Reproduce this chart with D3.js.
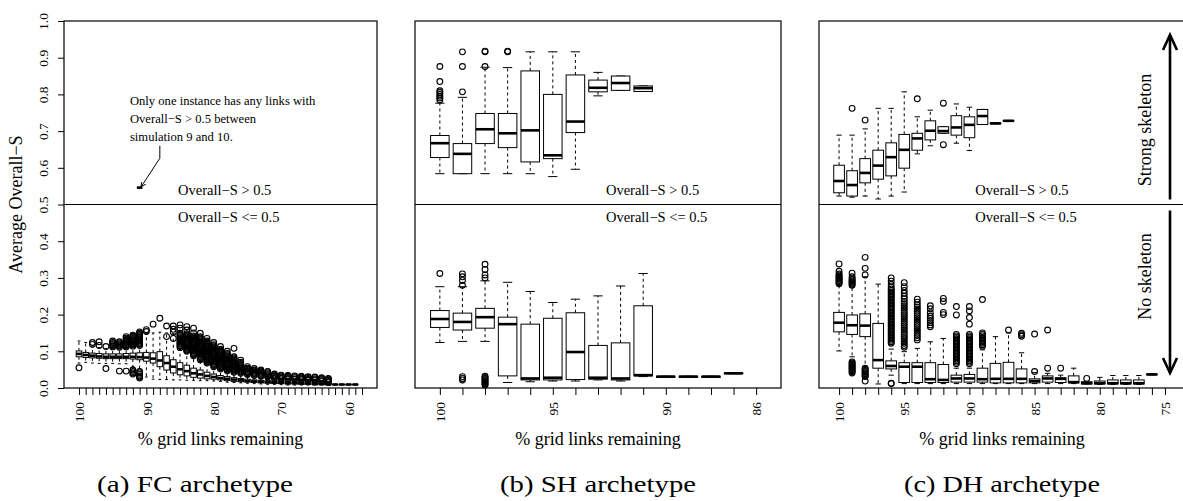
<!DOCTYPE html>
<html>
<head>
<meta charset="utf-8">
<style>
  body { margin: 0; background: #fff; }
  svg text { font-family: "Liberation Serif", "Times New Roman", serif; fill: #000; }
</style>
</head>
<body>
<div id="chart"></div>
<script src="https://d3js.org/d3.v7.min.js"></script>
<script>
// ------------------------------------------------ data
// categories (% grid links remaining) and which ones get a label
var aCats = ["100","99","98","97","96","95","94","93","92","91","90","89","88","87","86","85","84","83","82","81",
             "80","79","78","77","76","75","74","73","72","71","70","69","68","67","66","65","64","63","62","61","60","59","58"];
var aShown = ["100","90","80","70","60"];
var bCats = ["100","99","98","97","96","95","94","93","92","91","90","89","88","87","86"];
var bShown = ["100","95","90","86"];
var cCats = ["100","99","98","97","96","95","94","93","92","91","90","89","88","87","86","85","84","83","82","81",
             "80","79","78","77","76","75"];
var cShown = ["100","95","90","85","80","75"];

// box stats: [lower whisker, q1, median, q3, upper whisker]
// FC archetype
var aUpAt = ["91"];
var aUpStats = [[0.546, 0.546, 0.546, 0.546, 0.546]];
var aUpOut = [[]];
var aLowStats = [
  [0.068,0.085,0.093,0.101,0.128],[0.070,0.083,0.090,0.097,0.124],[0.068,0.082,0.088,0.095,0.112],
  [0.067,0.081,0.086,0.094,0.110],[0.067,0.080,0.085,0.093,0.108],[0.067,0.080,0.085,0.093,0.108],
  [0.066,0.080,0.085,0.093,0.108],[0.066,0.080,0.085,0.094,0.110],[0.058,0.079,0.085,0.095,0.112],
  [0.052,0.077,0.084,0.096,0.113],[0.030,0.073,0.083,0.097,0.148],[0.024,0.068,0.080,0.096,0.150],
  [0.023,0.058,0.075,0.099,0.152],[0.023,0.049,0.068,0.088,0.150],[0.022,0.041,0.058,0.077,0.148],
  [0.022,0.036,0.051,0.069,0.108],[0.021,0.033,0.046,0.062,0.096],[0.021,0.029,0.040,0.054,0.085],
  [0.020,0.027,0.037,0.049,0.073],[0.020,0.025,0.033,0.043,0.064],[0.019,0.024,0.030,0.038,0.055],
  [0.018,0.022,0.027,0.034,0.050],[0.016,0.020,0.025,0.031,0.045],[0.015,0.018,0.023,0.028,0.041],
  [0.014,0.017,0.021,0.026,0.038],[0.013,0.016,0.019,0.024,0.035],[0.012,0.015,0.018,0.022,0.032],
  [0.011,0.014,0.017,0.021,0.030],[0.010,0.013,0.016,0.020,0.028],[0.010,0.012,0.015,0.019,0.026],
  [0.009,0.012,0.014,0.018,0.024],[0.008,0.011,0.013,0.017,0.023],[0.008,0.011,0.013,0.016,0.022],
  [0.008,0.010,0.012,0.015,0.021],[0.008,0.010,0.012,0.014,0.020],[0.008,0.009,0.011,0.014,0.019],
  [0.008,0.009,0.011,0.013,0.017],[0.008,0.009,0.010,0.012,0.015],[0.009,0.009,0.0095,0.010,0.010],
  [0.009,0.009,0.0095,0.010,0.010],[0.009,0.009,0.0095,0.010,0.010],[0.009,0.009,0.0095,0.010,0.010]
];
var aLowOut = [
  [0.055],[],[0.124,0.119],[0.126,0.116],[0.113,0.053],[0.128,0.124,0.121,0.118,0.115,0.112],
  [0.126,0.123,0.120,0.117,0.114,0.111,0.046],
  [0.140,0.136,0.133,0.130,0.127,0.124,0.121,0.118,0.115,0.112,0.046],
  [0.144,0.141,0.138,0.135,0.132,0.129,0.126,0.123,0.120,0.117,0.114,0.049,0.045,0.041,0.038],
  [0.153,0.149,0.146,0.143,0.140,0.137,0.134,0.131,0.128,0.125,0.122,0.119,0.116,0.045,0.041,0.037,0.033,0.030,0.027],
  [0.159,0.154],[0.174],[0.190],[0.169,0.140],[0.169,0.160,0.152,0.135],
  [0.172,0.163,0.149,0.146,0.143,0.140,0.137,0.134,0.131,0.128,0.125,0.122,0.119,0.116,0.113,0.110],
  [0.167,0.158,0.148,0.145,0.142,0.139,0.136,0.133,0.130,0.127,0.124,0.121,0.118,0.115,0.112,0.109,0.106,0.103,0.100],
  [0.163,0.150,0.142,0.139,0.136,0.133,0.130,0.127,0.124,0.121,0.118,0.115,0.112,0.109,0.106,0.103,0.100,0.097,0.094,0.091,0.088],
  [0.149,0.140,0.137,0.134,0.131,0.128,0.125,0.122,0.119,0.116,0.113,0.110,0.107,0.104,0.101,0.098,0.095,0.092,0.089,0.086,0.083,0.080,0.077],
  [0.135,0.128,0.125,0.122,0.119,0.116,0.113,0.110,0.107,0.104,0.101,0.098,0.095,0.092,0.089,0.086,0.083,0.080,0.077,0.074,0.071,0.068],
  [0.124,0.118,0.115,0.112,0.109,0.106,0.103,0.100,0.097,0.094,0.091,0.088,0.085,0.082,0.079,0.076,0.073,0.070,0.067,0.064,0.061,0.058],
  [0.113,0.106,0.103,0.100,0.097,0.094,0.091,0.088,0.085,0.082,0.079,0.076,0.073,0.070,0.067,0.064,0.061,0.058,0.055,0.052],
  [0.100,0.094,0.091,0.088,0.085,0.082,0.079,0.076,0.073,0.070,0.067,0.064,0.061,0.058,0.055,0.052,0.049,0.047],
  [0.108,0.085,0.082,0.079,0.076,0.073,0.070,0.067,0.064,0.061,0.058,0.055,0.052,0.049,0.046,0.043],
  [0.076,0.070,0.067,0.064,0.061,0.058,0.055,0.052,0.049,0.046,0.043,0.040],
  [0.058,0.054,0.051,0.048,0.045,0.042,0.039,0.037],
  [0.053,0.049,0.046,0.043,0.040,0.037,0.034],
  [0.049,0.046,0.043,0.040,0.037,0.034,0.032],
  [0.045,0.042,0.039,0.036,0.033,0.030],
  [0.038,0.035,0.032,0.029,0.026],[0.035,0.033,0.030,0.027,0.025],[0.034,0.032,0.029,0.026,0.024],
  [0.033,0.031,0.028,0.025,0.023],[0.032,0.030,0.027,0.024,0.022],[0.031,0.029,0.026,0.023,0.021],
  [0.030,0.028,0.025,0.022,0.020],[0.028,0.026,0.023,0.020,0.018],[0.026,0.024,0.021,0.018,0.016],
  [],[],[],[]
];

// SH archetype
var bUpStats = [
  [0.584,0.628,0.667,0.688,0.776],[0.584,0.584,0.638,0.666,0.792],[0.584,0.666,0.705,0.748,0.874],
  [0.584,0.655,0.694,0.748,0.873],[0.584,0.616,0.702,0.864,0.916],[0.576,0.625,0.634,0.800,0.916],
  [0.596,0.696,0.726,0.853,0.916],[0.796,0.807,0.818,0.839,0.860],[0.811,0.811,0.831,0.850,0.850],
  [0.808,0.808,0.817,0.823,0.823]
];
var bUpOut = [
  [0.785,0.790,0.795,0.800,0.805,0.810,0.835,0.876],[0.807,0.876,0.916],[0.876,0.916,0.918],
  [0.916,0.918],[],[],[],[],[],[]
];
var bLowStats = [
  [0.124,0.165,0.188,0.211,0.276],[0.127,0.158,0.180,0.204,0.276],[0.127,0.163,0.193,0.217,0.292],
  [0.015,0.033,0.174,0.193,0.288],[0.017,0.022,0.026,0.174,0.263],[0.019,0.022,0.028,0.190,0.233],
  [0.019,0.023,0.098,0.205,0.242],[0.022,0.024,0.028,0.116,0.251],[0.019,0.022,0.026,0.123,0.278],
  [0.031,0.033,0.035,0.224,0.312],[0.029,0.029,0.031,0.032,0.032],[0.029,0.029,0.031,0.032,0.032],
  [0.029,0.029,0.031,0.032,0.032],[0.039,0.039,0.040,0.041,0.041]
];
var bLowOut = [
  [0.312],[0.280,0.293,0.303,0.311,0.022,0.026,0.031],
  [0.300,0.308,0.323,0.337,0.008,0.011,0.014,0.017,0.020,0.023,0.026,0.029,0.032],
  [],[],[],[],[],[],[],[],[],[],[]
];

// DH archetype
var cUpStats = [
  [0.523,0.532,0.564,0.607,0.689],[0.520,0.523,0.553,0.592,0.689],[0.523,0.559,0.586,0.625,0.706],
  [0.515,0.569,0.606,0.648,0.762],[0.523,0.578,0.629,0.668,0.762],[0.534,0.599,0.649,0.691,0.807],
  [0.638,0.648,0.680,0.694,0.739],[0.660,0.676,0.701,0.728,0.757],[0.694,0.694,0.700,0.712,0.712],
  [0.667,0.689,0.710,0.742,0.774],[0.647,0.682,0.717,0.739,0.765],[0.718,0.718,0.741,0.759,0.759],
  [0.720,0.720,0.721,0.722,0.722],[0.727,0.727,0.728,0.729,0.729]
];
var cUpOut = [[],[0.762],[0.730],[],[],[],[0.788],[],[0.776,0.663],[],[],[],[],[]];
var cLowStats = [
  [0.101,0.153,0.178,0.206,0.281],[0.085,0.146,0.171,0.199,0.275],[0.057,0.140,0.170,0.202,0.303],
  [0.011,0.054,0.076,0.176,0.283],[0.035,0.052,0.060,0.074,0.106],[0.012,0.015,0.058,0.069,0.099],
  [0.012,0.015,0.058,0.069,0.108],[0.012,0.015,0.024,0.069,0.126],[0.012,0.015,0.022,0.064,0.135],
  [0.012,0.016,0.026,0.035,0.054],[0.012,0.016,0.026,0.037,0.054],[0.012,0.016,0.024,0.054,0.104],
  [0.012,0.014,0.025,0.067,0.140],[0.012,0.014,0.025,0.070,0.150],[0.012,0.014,0.025,0.052,0.096],
  [0.012,0.014,0.019,0.025,0.042],[0.012,0.016,0.026,0.033,0.040],[0.012,0.015,0.025,0.028,0.035],
  [0.012,0.014,0.016,0.033,0.054],[0.011,0.011,0.013,0.017,0.017],[0.010,0.011,0.013,0.019,0.029],
  [0.010,0.011,0.013,0.022,0.034],[0.010,0.011,0.013,0.022,0.034],[0.010,0.011,0.013,0.022,0.034],
  [0.036,0.036,0.037,0.038,0.038]
];
var cLowOut = [
  [0.338,0.318,0.311,0.308,0.305,0.302,0.299,0.296,0.293,0.290,0.287,0.284],
  [0.313,0.303,0.298,0.295,0.292,0.289,0.286,0.283,0.280,
   0.041,0.044,0.047,0.050,0.053,0.056,0.059,0.062,0.065,0.068,0.071],
  [0.356,0.326,0.308,0.054,0.051,0.048,0.045,0.042,0.039,0.036,0.033,0.031,0.019],
  [],
  [0.300,0.291,0.282,0.275,0.270,0.266,0.262,0.258,0.254,0.250,0.246,0.242,0.238,0.234,0.230,0.226,
   0.222,0.218,0.214,0.210,0.206,0.202,0.198,0.194,0.190,0.186,0.182,0.178,0.174,0.170,0.166,0.162,
   0.158,0.154,0.150,0.146,0.142,0.138,0.134,0.130,0.126,0.122,0.013,0.012],
  [0.287,0.276,0.266,0.258,0.250,0.243,0.236,0.230,0.224,0.218,0.212,0.206,0.200,0.194,0.188,0.182,
   0.176,0.170,0.164,0.158,0.152,0.146,0.140,0.134,0.128,0.122,0.116,0.111],
  [0.242,0.234,0.227,0.221,0.215,0.209,0.203,0.197,0.191,0.185,0.179,0.173,0.167,0.161,0.155,0.149,
   0.143,0.137,0.131],
  [0.224,0.216,0.205,0.196,0.190,0.184,0.178,0.172,0.167],
  [0.244,0.236,0.206,0.200],
  [0.222,0.199,0.146,0.142,0.138,0.134,0.130,0.126,0.122,0.118,0.114,0.110,0.106,0.102,0.098,0.094,
   0.090,0.086,0.082,0.078,0.074,0.070,0.066],
  [0.222,0.210,0.192,0.174,0.146,0.142,0.138,0.134,0.130,0.126,0.122,0.118,0.114,0.110,0.106,0.102,
   0.098,0.094,0.090,0.086,0.082,0.078,0.074,0.070,0.066],
  [0.241,0.150,0.146,0.142,0.138,0.134,0.130,0.126,0.122,0.118,0.114],
  [],[0.158],[0.149,0.145,0.141],[0.147,0.045],[0.158,0.054],[0.054],[],[0.026],[],[],[],[],[]
];

var noteLines = ["Only one instance has any links with", "Overall\u2212S > 0.5 between", "simulation 9 and 10."];

// ------------------------------------------------ layout
var W = 1183, H = 501;
var svg = d3.select("#chart").append("svg")
    .attr("width", W)
    .attr("height", H);
svg.append("rect").attr("width", W).attr("height", H).attr("fill", "#fff");

var y = d3.scaleLinear().domain([0, 1]).range([388, 21]);

var panels = [
  {left: 64, width: 313, cats: aCats, shown: aShown, up: aUpStats, upOut: aUpOut, upAt: aUpAt,
   low: aLowStats, lowOut: aLowOut, caption: "(a) FC archetype", capX: 195, labelAt: 14.7, yAxis: true},
  {left: 415, width: 366, cats: bCats, shown: bShown, up: bUpStats, upOut: bUpOut,
   low: bLowStats, lowOut: bLowOut, caption: "(b) SH archetype", labelAt: 7.35},
  {left: 819, width: 366, cats: cCats, shown: cShown, up: cUpStats, upOut: cUpOut,
   low: cLowStats, lowOut: cLowOut, caption: "(c) DH archetype", labelAt: 10.45}
];

function drawBoxes(g, x, cats, stats, outs, at) {
  var unit = x(1) - x(0);
  var bw = unit * 0.82;
  stats.forEach(function(s, i) {
    var cx = x(at ? cats.indexOf(at[i]) : i);
    var b = g.append("g");
    // whiskers
    b.append("line").attr("x1", cx).attr("x2", cx).attr("y1", y(s[3])).attr("y2", y(s[4]))
      .attr("stroke", "#000").attr("stroke-dasharray", "3,3");
    b.append("line").attr("x1", cx).attr("x2", cx).attr("y1", y(s[1])).attr("y2", y(s[0]))
      .attr("stroke", "#000").attr("stroke-dasharray", "3,3");
    [s[0], s[4]].forEach(function(v) {
      b.append("line").attr("x1", cx - bw / 4).attr("x2", cx + bw / 4)
        .attr("y1", y(v)).attr("y2", y(v)).attr("stroke", "#000");
    });
    b.append("rect")
      .attr("x", cx - bw / 2).attr("width", bw)
      .attr("y", y(s[3])).attr("height", Math.max(0, y(s[1]) - y(s[3])))
      .attr("fill", "#fff").attr("stroke", "#000");
    b.append("line").attr("x1", cx - bw / 2).attr("x2", cx + bw / 2)
      .attr("y1", y(s[2])).attr("y2", y(s[2]))
      .attr("stroke", "#000").attr("stroke-width", 2.6);
    b.selectAll("circle").data(outs[i] || []).enter().append("circle")
      .attr("cx", cx).attr("cy", function(d) { return y(d); })
      .attr("r", 2.9).attr("fill", "none").attr("stroke", "#000").attr("stroke-width", 1.1);
  });
}

var fmt = d3.format(".1f");

panels.forEach(function(p) {
  var n = p.cats.length;
  var x = d3.scaleLinear()
    .domain([-0.5 - 0.04 * n, n - 0.5 + 0.04 * n])
    .range([p.left, p.left + p.width]);
  p.x = x;
  var g = svg.append("g");

  drawBoxes(g, x, p.cats, p.up, p.upOut, p.upAt);
  drawBoxes(g, x, p.cats, p.low, p.lowOut);

  // frame and the 0.5 divider
  g.append("rect")
    .attr("x", p.left).attr("y", y(1))
    .attr("width", p.width).attr("height", y(0) - y(1))
    .attr("fill", "none").attr("stroke", "#000").attr("stroke-width", 1.2);
  g.append("line")
    .attr("x1", p.left).attr("x2", p.left + p.width)
    .attr("y1", y(0.5)).attr("y2", y(0.5))
    .attr("stroke", "#000").attr("stroke-width", 1.2);

  // x axis
  var xa = g.append("g")
    .attr("transform", "translate(0," + y(0) + ")")
    .call(d3.axisBottom(x)
      .tickValues(d3.range(n))
      .tickSize(7)
      .tickSizeOuter(0)
      .tickFormat(function(i) { return p.shown.indexOf(p.cats[i]) >= 0 ? p.cats[i] : ""; }));
  xa.select(".domain").remove();
  xa.selectAll("line").attr("stroke", "#000");
  xa.selectAll("text")
    .attr("transform", "rotate(-90)")
    .attr("x", -14).attr("y", 0).attr("dy", "0.35em")
    .attr("text-anchor", "end")
    .style("font-family", "Liberation Serif, serif")
    .style("font-size", "13.5px");

  if (p.yAxis) {
    var ya = g.append("g")
      .attr("transform", "translate(" + p.left + ",0)")
      .call(d3.axisLeft(y).tickValues(d3.range(0, 11).map(function(k) { return k / 10; }))
        .tickSize(6).tickSizeOuter(0).tickFormat(fmt));
    ya.select(".domain").remove();
    ya.selectAll("line").attr("stroke", "#000");
    ya.selectAll("text")
      .attr("transform", "rotate(-90)")
      .attr("x", 0).attr("y", -16).attr("dy", 0)
      .attr("text-anchor", "middle")
      .style("font-family", "Liberation Serif, serif")
      .style("font-size", "13.5px");
    svg.append("text")
      .attr("transform", "translate(22," + y(0.5) + ") rotate(-90)")
      .attr("text-anchor", "middle")
      .style("font-size", "18px")
      .text("Average Overall\u2212S");
  }

  // region labels
  g.append("text").attr("x", x(p.labelAt)).attr("y", y(0.5) - 10)
    .style("font-size", "14.5px").text("Overall\u2212S > 0.5");
  g.append("text").attr("x", x(p.labelAt)).attr("y", y(0.5) + 17)
    .style("font-size", "14.5px").text("Overall\u2212S <= 0.5");

  // axis title and caption
  g.append("text")
    .attr("x", p.left + p.width / 2).attr("y", 445)
    .attr("text-anchor", "middle")
    .style("font-size", "18px")
    .text("% grid links remaining");
  g.append("text")
    .attr("x", p.capX || p.left + p.width / 2).attr("y", 492)
    .attr("text-anchor", "middle")
    .attr("textLength", 196).attr("lengthAdjust", "spacingAndGlyphs")
    .style("font-size", "23px")
    .text(p.caption);
});

// ------------------------------------------------ annotation in (a)
var xa0 = panels[0].x;
svg.selectAll(".note").data(noteLines).enter().append("text")
  .attr("class", "note")
  .attr("x", xa0(7.57))
  .attr("y", function(d, i) { return y(0.771) + i * 18; })
  .style("font-size", "12.6px")
  .text(function(d) { return d; });

svg.append("defs").append("marker")
  .attr("id", "tip").attr("viewBox", "0 0 10 10")
  .attr("refX", 9).attr("refY", 5)
  .attr("markerWidth", 5).attr("markerHeight", 5)
  .attr("orient", "auto")
  .append("path").attr("d", "M0,0 L10,5 L0,10").attr("fill", "none").attr("stroke", "#000").attr("stroke-width", 2);

svg.append("path")
  .attr("d", d3.line()([[xa0(12.0), y(0.660)], [xa0(12.0), y(0.626)], [xa0(9.25), y(0.549)]]))
  .attr("fill", "none").attr("stroke", "#000")
  .attr("marker-end", "url(#tip)");

// ------------------------------------------------ skeleton arrows in (c)
var pc = panels[2];
var ax = pc.left + pc.width - 15;
function bigArrow(y0, y1) {
  var dir = y1 < y0 ? 1 : -1;
  svg.append("line").attr("x1", ax).attr("x2", ax).attr("y1", y0).attr("y2", y1)
    .attr("stroke", "#000").attr("stroke-width", 2.6);
  svg.append("path")
    .attr("d", "M" + (ax - 7) + "," + (y1 + dir * 15) + " L" + ax + "," + y1 + " L" + (ax + 7) + "," + (y1 + dir * 15))
    .attr("fill", "none").attr("stroke", "#000").attr("stroke-width", 2.6);
}
bigArrow(y(0.5) - 5, y(0.962));
bigArrow(y(0.5) + 6, y(0.041));

svg.append("text")
  .attr("transform", "translate(" + (ax - 19) + "," + y(0.703) + ") rotate(-90)")
  .attr("text-anchor", "middle").style("font-size", "18px")
  .text("Strong skeleton");
svg.append("text")
  .attr("transform", "translate(" + (ax - 19) + "," + y(0.304) + ") rotate(-90)")
  .attr("text-anchor", "middle").style("font-size", "18px")
  .text("No skeleton");
</script>
</body>
</html>
